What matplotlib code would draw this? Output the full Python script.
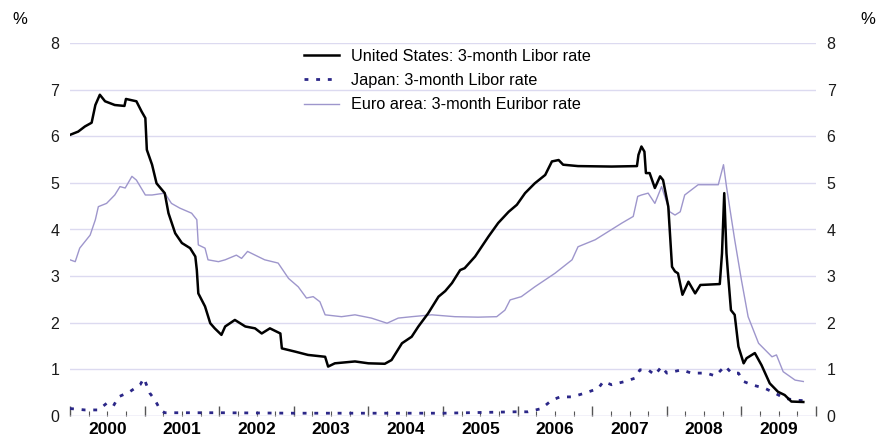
import matplotlib
matplotlib.use("Agg")
import matplotlib.pyplot as plt
from matplotlib.lines import Line2D

plt.rcParams['font.family'] = ['Liberation Sans', 'DejaVu Sans']

# ---- data (decimal year, percent) ----
us_dates = [2000.00, 2000.11, 2000.20, 2000.29, 2000.34, 2000.40, 2000.47, 2000.60, 2000.73, 2000.75,
            2000.89, 2000.96, 2001.01, 2001.03, 2001.10, 2001.16, 2001.27, 2001.32, 2001.41, 2001.50,
            2001.61, 2001.68, 2001.70, 2001.72, 2001.81, 2001.88, 2001.94, 2002.03, 2002.08, 2002.21,
            2002.35, 2002.48, 2002.57, 2002.68, 2002.82, 2002.84, 2003.02, 2003.19, 2003.42, 2003.46,
            2003.55, 2003.82, 2004.00, 2004.22, 2004.31, 2004.45, 2004.58, 2004.67, 2004.80, 2004.94,
            2005.03, 2005.12, 2005.23, 2005.29, 2005.43, 2005.61, 2005.74, 2005.88, 2005.99, 2006.10,
            2006.23, 2006.37, 2006.46, 2006.55, 2006.61, 2006.81, 2007.26, 2007.60, 2007.62, 2007.66,
            2007.70, 2007.72, 2007.77, 2007.84, 2007.91, 2007.95, 2008.02, 2008.07, 2008.11, 2008.15,
            2008.21, 2008.29, 2008.38, 2008.45, 2008.71, 2008.74, 2008.77, 2008.80, 2008.82, 2008.86,
            2008.91, 2008.96, 2009.03, 2009.07, 2009.18, 2009.27, 2009.38, 2009.49, 2009.58, 2009.67,
            2009.83]
us_values = [6.03, 6.10, 6.21, 6.29, 6.67, 6.89, 6.75, 6.67, 6.65, 6.80,
             6.75, 6.53, 6.39, 5.71, 5.39, 4.99, 4.78, 4.35, 3.92, 3.71,
             3.60, 3.42, 3.13, 2.63, 2.35, 1.99, 1.88, 1.74, 1.92, 2.06,
             1.92, 1.88, 1.77, 1.88, 1.77, 1.45, 1.38, 1.31, 1.27, 1.06,
             1.13, 1.17, 1.13, 1.12, 1.20, 1.56, 1.70, 1.92, 2.20, 2.56,
             2.68, 2.85, 3.13, 3.17, 3.42, 3.85, 4.14, 4.38, 4.53, 4.78,
             4.99, 5.17, 5.46, 5.49, 5.39, 5.36, 5.35, 5.36, 5.60, 5.78,
             5.67, 5.21, 5.21, 4.89, 5.14, 5.06, 4.49, 3.20, 3.10, 3.06,
             2.60, 2.88, 2.63, 2.81, 2.83, 3.49, 4.78, 3.49, 3.06, 2.27,
             2.17, 1.49, 1.13, 1.24, 1.35, 1.09, 0.70, 0.52, 0.45, 0.31,
             0.30]

jp_dates = [2000.00, 2000.20, 2000.38, 2000.49, 2000.58, 2000.65, 2000.80, 2000.94, 2000.99, 2001.07,
            2001.14, 2001.21, 2001.27, 2002.00, 2003.00, 2004.00, 2005.00, 2005.97, 2006.14, 2006.32,
            2006.46, 2006.57, 2006.73, 2006.90, 2007.08, 2007.15, 2007.26, 2007.44, 2007.57, 2007.64,
            2007.75, 2007.84, 2007.93, 2008.00, 2008.20, 2008.33, 2008.53, 2008.65, 2008.78, 2008.87,
            2008.96, 2009.03, 2009.14, 2009.32, 2009.45, 2009.58, 2009.72, 2009.83]
jp_values = [0.16, 0.13, 0.13, 0.27, 0.21, 0.41, 0.52, 0.67, 0.81, 0.49,
             0.34, 0.13, 0.07, 0.07, 0.06, 0.06, 0.06, 0.09, 0.09, 0.16,
             0.34, 0.41, 0.41, 0.49, 0.59, 0.74, 0.67, 0.74, 0.81, 0.99,
             0.99, 0.88, 1.06, 0.92, 0.99, 0.92, 0.92, 0.86, 1.07, 0.92,
             0.92, 0.74, 0.67, 0.59, 0.49, 0.38, 0.34, 0.33]

eu_dates = [2000.00, 2000.07, 2000.13, 2000.27, 2000.34, 2000.38, 2000.49, 2000.60, 2000.67, 2000.74,
            2000.83, 2000.89, 2001.01, 2001.10, 2001.27, 2001.36, 2001.47, 2001.63, 2001.70, 2001.72,
            2001.81, 2001.85, 2001.99, 2002.08, 2002.23, 2002.30, 2002.38, 2002.52, 2002.61, 2002.79,
            2002.93, 2003.06, 2003.17, 2003.26, 2003.35, 2003.42, 2003.64, 2003.82, 2004.04, 2004.25,
            2004.40, 2004.58, 2004.85, 2005.16, 2005.47, 2005.72, 2005.83, 2005.90, 2006.05, 2006.23,
            2006.50, 2006.73, 2006.81, 2007.04, 2007.40, 2007.55, 2007.61, 2007.66, 2007.75, 2007.84,
            2007.93, 2008.04, 2008.11, 2008.18, 2008.24, 2008.42, 2008.69, 2008.76, 2008.80, 2008.91,
            2009.00, 2009.09, 2009.23, 2009.41, 2009.47, 2009.56, 2009.72, 2009.83]
eu_values = [3.35, 3.31, 3.60, 3.88, 4.21, 4.49, 4.56, 4.74, 4.92, 4.89,
             5.14, 5.06, 4.74, 4.74, 4.78, 4.56, 4.46, 4.35, 4.21, 3.67,
             3.60, 3.35, 3.31, 3.35, 3.45, 3.38, 3.53, 3.42, 3.35, 3.28,
             2.95, 2.77, 2.53, 2.56, 2.45, 2.17, 2.13, 2.17, 2.10, 1.99,
             2.10, 2.13, 2.17, 2.13, 2.12, 2.13, 2.27, 2.49, 2.56, 2.77,
             3.06, 3.35, 3.63, 3.78, 4.14, 4.28, 4.71, 4.74, 4.78, 4.56,
             4.92, 4.38, 4.31, 4.38, 4.74, 4.96, 4.96, 5.39, 4.92, 3.78,
             2.92, 2.13, 1.56, 1.27, 1.31, 0.95, 0.77, 0.74]

years = list(range(2000, 2010))
y_ticks = [0, 1, 2, 3, 4, 5, 6, 7, 8]
labels = ["United States: 3-month Libor rate",
          "Japan: 3-month Libor rate",
          "Euro area: 3-month Euribor rate"]

# ---- styling ----
GRID = "#dcdaf0"
NAVY = "#2b2788"
LAV = "#9e96cc"
JP_STYLE = (0, (1.4, 2.8))

fig = plt.figure(figsize=(8.85, 4.36), dpi=100)
ax = fig.add_axes([70 / 885, 20 / 436, 746 / 885, 373 / 436])

ax.plot(eu_dates, eu_values, color=LAV, lw=1.0, zorder=2)
ax.plot(jp_dates, jp_values, color=NAVY, lw=2.0, linestyle=JP_STYLE,
        dash_capstyle='butt', zorder=3)
ax.plot(us_dates, us_values, color="black", lw=1.8, zorder=4)

ax.set_xlim(2000, 2010)
ax.set_ylim(0, 8)

for s in ax.spines.values():
    s.set_visible(False)
ax.axhline(0, color=GRID, lw=1.0, zorder=1)

ax.set_yticks(y_ticks)
ax.yaxis.grid(True, color=GRID, lw=1.0, zorder=1)
ax.set_axisbelow(True)
ax.tick_params(axis='y', which='both', length=0, labelsize=11.5,
               left=True, right=True, labelleft=True, labelright=True,
               pad=7.7)
for lab in ax.get_yticklabels():
    lab.set_color("#1a1a1a")

# x ticks: long at years, short at quarters, pointing up into the plot
ax.set_xticks([y for y in range(2000, 2011)])
ax.set_xticks([y + q / 4 for y in range(2000, 2010) for q in (1, 2, 3)], minor=True)
ax.tick_params(axis='x', which='major', direction='in', length=7, width=1.0,
               color="#555555", labelbottom=False)
ax.tick_params(axis='x', which='minor', direction='in', length=3.5, width=0.8,
               color="#555555", labelbottom=False)

sec = ax.secondary_xaxis('bottom')
sec.set_xticks([y + 0.5 for y in years])
sec.set_xticklabels([str(y) for y in years], fontweight='bold', fontsize=12.5)
sec.tick_params(length=0, pad=4)
for s in sec.spines.values():
    s.set_visible(False)

fig.text(12 / 885, 1 - 20 / 436, "%", fontsize=12, va='center', ha='left')
fig.text(860 / 885, 1 - 20 / 436, "%", fontsize=12, va='center', ha='left')

handles = [Line2D([], [], color="black", lw=1.8),
           Line2D([], [], color=NAVY, lw=2.0, linestyle=JP_STYLE, dash_capstyle='butt'),
           Line2D([], [], color=LAV, lw=1.0)]
leg = ax.legend(handles, labels, loc='upper left',
                bbox_to_anchor=((304 - 70) / 746, (416 - 49) / 373),
                frameon=False, fontsize=11.7, handlelength=2.15,
                handletextpad=0.75, labelspacing=0.56, borderpad=0, borderaxespad=0)

fig.savefig("out.png", dpi=100)
